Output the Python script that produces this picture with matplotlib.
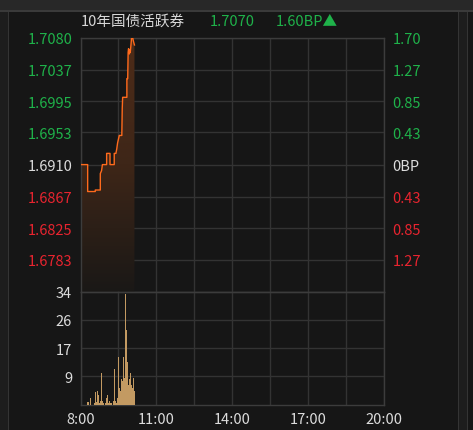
import numpy as np
import matplotlib
matplotlib.use("Agg")
import matplotlib.pyplot as plt
from matplotlib.colors import LinearSegmentedColormap
from matplotlib.patches import Rectangle

plt.rcParams['font.family'] = ['Noto Sans CJK SC', 'DejaVu Sans']

# ---------------- data ----------------
title = "10年国债活跃券"
last_price = "1.7070"
last_change = "1.60BP▲"

base_price = 1.6910
price_ticks = [1.7080, 1.7037, 1.6995, 1.6953, 1.6910, 1.6867, 1.6825, 1.6783]
price_labels = ["1.7080", "1.7037", "1.6995", "1.6953", "1.6910", "1.6867", "1.6825", "1.6783"]
bp_labels = ["1.70", "1.27", "0.85", "0.43", "0BP", "0.43", "0.85", "1.27"]

# minutes after 8:00
price_min = [0, 17, 17, 35, 35, 47, 47, 50, 52, 60, 62, 62, 70, 70, 80, 80, 84, 86,
             88, 92, 98, 99, 100, 110, 110, 112, 113, 114, 116, 117, 118, 120, 121,
             124, 126, 128]
price_val = [1.6910, 1.6910, 1.6874, 1.6874, 1.6876, 1.6876, 1.6898, 1.6902, 1.6910,
             1.6910, 1.6910, 1.6925, 1.6925, 1.6910, 1.6910, 1.6925, 1.6925, 1.6931,
             1.6939, 1.6949, 1.6949, 1.6985, 1.7000, 1.7000, 1.7025, 1.7025, 1.7060,
             1.7065, 1.7058, 1.7063, 1.7060, 1.7072, 1.7079, 1.7079, 1.7074, 1.7070]

vol_min = list(range(0, 130, 2))
vol_val = [0, 0, 0, 0, 0, 0, 0, 0, 0.8, 0.8, 0, 2.0, 0.5, 0, 0, 0, 0.5, 3.8, 0.8, 0.5,
           4.0, 3.0, 0.5, 1.0, 9.6, 6.8, 1.0, 0.5, 0, 0.5, 2.0, 1.0, 2.8, 0.5, 1.0, 0.5,
           0.5, 0, 0.5, 1.0, 10.8, 1.0, 0.5, 2.0, 3.0, 14.4, 5.0, 4.0, 7.6, 7.0, 6.0,
           14.4, 8.0, 33.4, 22.4, 12.8, 5.8, 10.8, 7.6, 9.6, 6.0, 5.0, 8.0, 17.4, 4.0]

vol_ticks = [8.5, 17, 25.5, 34]
vol_labels = ["9", "17", "26", "34"]

time_ticks = [0, 180, 360, 540, 720]
time_labels = ["8:00", "11:00", "14:00", "17:00", "20:00"]

# ---------------- style ----------------
bg = '#161616'
grid_c = '#333333'
frame_c = '#3c3c3c'
green = '#1fb24a'
red = '#e8242f'
light = '#dcdcdc'
fs = 10.5

W, H = 473, 431
fig = plt.figure(figsize=(W / 100, H / 100), dpi=100, facecolor=bg)

def fx(px):
    return px / W

def fy(py):
    return 1 - py / H

# outer frame pieces
fig.add_artist(Rectangle((0, fy(11)), 1, 11 / H, transform=fig.transFigure, color='#282828', lw=0))
fig.add_artist(Rectangle((0, fy(12.5)), 1, 1.5 / H, transform=fig.transFigure, color='#3a3a3a', lw=0))
fig.add_artist(Rectangle((0, 0), fx(8), fy(12.5), transform=fig.transFigure, color='#1d1d1d', lw=0))
fig.add_artist(Rectangle((fx(8), 0), 1.2 / W, fy(12.5), transform=fig.transFigure, color='#343434', lw=0))
fig.add_artist(Rectangle((fx(458), 0), fx(9), fy(12.5), transform=fig.transFigure, color='#1d1d1d', lw=0))
fig.add_artist(Rectangle((fx(458), 0), 1.2 / W, fy(12.5), transform=fig.transFigure, color='#343434', lw=0))
fig.add_artist(Rectangle((fx(466.5), 0), 1.2 / W, fy(12.5), transform=fig.transFigure, color='#343434', lw=0))

left, right = fx(80.5), fx(384)
p_top, p_bot = 38.5, 292.7
v_bot = 405.7

ax = fig.add_axes([left, fy(p_bot), right - left, (p_bot - p_top) / H], facecolor=bg)
axv = fig.add_axes([left, fy(v_bot), right - left, (v_bot - p_bot) / H], facecolor=bg)

ymin, ymax = base_price - 0.017, base_price + 0.017

for a in (ax, axv):
    a.set_xlim(0, 720)
    a.set_xticks(range(0, 721, 90))
    a.grid(True, color=grid_c, lw=1.0)
    a.set_axisbelow(True)
    for s in a.spines.values():
        s.set_color(frame_c)
        s.set_linewidth(1.0)
    a.tick_params(length=0)

# ----- price panel -----
ax.set_ylim(ymin, ymax)
ax.set_yticks(price_ticks + [ymin])
ax.set_yticklabels(price_labels + [""], fontsize=fs)
ax.tick_params(axis='y', pad=6)
ax.set_xticklabels([])
for lbl, v in zip(ax.get_yticklabels(), price_ticks):
    lbl.set_color(green if v > base_price + 1e-6 else (red if v < base_price - 1e-6 else light))

ax2 = ax.twinx()
ax2.set_ylim(ymin, ymax)
ax2.set_yticks(price_ticks)
ax2.set_yticklabels(bp_labels, fontsize=fs)
ax2.tick_params(length=0, pad=6)
for s in ax2.spines.values():
    s.set_visible(False)
for lbl, v in zip(ax2.get_yticklabels(), price_ticks):
    lbl.set_color(green if v > base_price + 1e-6 else (red if v < base_price - 1e-6 else light))

# gradient fill under the price line
cmap = LinearSegmentedColormap.from_list('fill', ['#1a1816', '#3e2618', '#4e2c18'])
grad = np.linspace(0, 1, 256).reshape(-1, 1)
poly = ax.fill_between(price_min, price_val, ymin, color='none', lw=0)
img = ax.imshow(grad, cmap=cmap, aspect='auto', origin='lower',
                extent=[0, price_min[-1], ymin, ymax], zorder=2)
img.set_clip_path(poly.get_paths()[0], transform=ax.transData)
ax.plot(price_min, price_val, color='#ff6a1c', lw=1.0, zorder=3)

# ----- volume panel -----
axv.set_ylim(0, 34)
axv.set_yticks(vol_ticks)
axv.set_yticklabels(vol_labels, fontsize=fs, color=light)
axv.tick_params(axis='y', pad=6)
axv.bar([m + 1 for m in vol_min], vol_val, width=2.0, color='#c39a62', lw=0, zorder=3)
axv.set_xticklabels([time_labels[time_ticks.index(t)] if t in time_ticks else ""
                     for t in range(0, 721, 90)], fontsize=fs, color=light)
axv.tick_params(axis='x', pad=5)

# ----- header -----
fig.text(fx(80.5), fy(22), title, color='#d8d8d8', fontsize=fs, va='center', ha='left')
fig.text(fx(209.5), fy(22), last_price, color=green, fontsize=fs, va='center', ha='left')
fig.text(fx(276), fy(22), last_change, color=green, fontsize=fs, va='center', ha='left')

fig.savefig("out.png", dpi=100, facecolor=bg)
